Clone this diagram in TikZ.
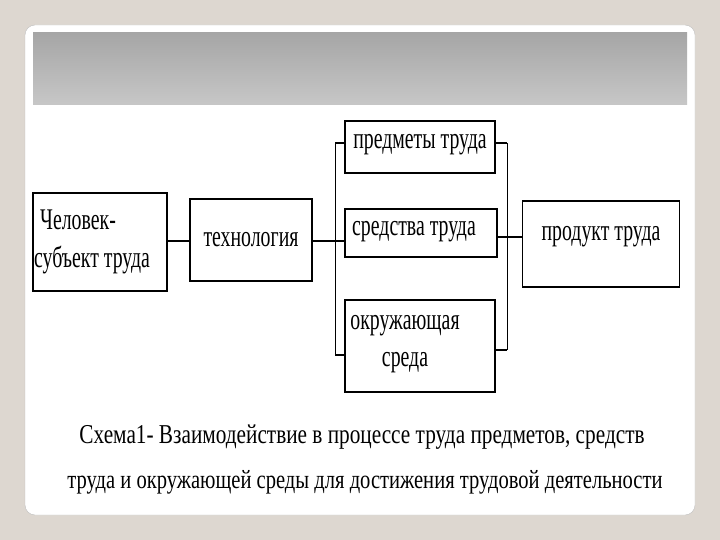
\documentclass[tikz,border=0pt]{standalone}
\usepackage{fontspec}
\setmainfont{Liberation Serif}
\newfontfamily\nar[FakeStretch=0.78]{Liberation Serif}
\newfontfamily\narr[FakeStretch=0.66]{Liberation Serif}
\newcommand\tf{\narr\fontsize{30}{34}\selectfont}
\begin{document}
\begin{tikzpicture}[x=1pt,y=-1pt,
  bx/.style={draw,line width=1.6pt,inner sep=0pt},
  tx/.style={inner sep=0pt},
  ln/.style={line width=1.3pt}]
\fill[black!12!white!90!brown] (0,0) rectangle (720,540);
\useasboundingbox (0,0) rectangle (720,540);
\fill[white,draw=black!25,rounded corners=10pt] (25,25) rectangle (695,515);
\shade[top color=black!35,bottom color=black!22] (33,33) rectangle (687,105);
\node[bx,minimum width=134,minimum height=98] (ch) at (100,242) {};
\node[tx,anchor=west] (ch1) at (40,220) {\tf Человек-};
\node[tx,anchor=west] (ch2) at (34,260) {\tf субъект труда};
\node[bx,minimum width=122,minimum height=82] (te) at (251,240) {};
\node[tx] at (251,240) {\tf технология};
\node[bx,minimum width=150,minimum height=52] (pr) at (420,147) {};
\node[tx] at (420,145) {\tf предметы труда};
\node[bx,minimum width=152,minimum height=48] (sr) at (421,233) {};
\node[tx] at (414,232) {\tf средства труда};
\node[bx,minimum width=150,minimum height=92] (ok) at (420,346) {};
\node[tx] at (405,326) {\tf окружающая};
\node[tx] at (405,363) {\tf среда};
\node[bx,line width=1.2pt,minimum width=157,minimum height=86] (pt) at (601,244) {};
\node[tx] at (601,237) {\tf продукт труда};
\coordinate (b1t) at (335,143); \coordinate (b1b) at (335,355);
\coordinate (b2t) at (507,143); \coordinate (b2b) at (507,350);
\draw[ln] (ch.east|-0,241) -- (te.west|-0,241);
\draw[ln] (te.east|-0,241) -- (335,241);
\draw[line width=0.8pt] (b1t) -- (b1b);
\draw[ln] (b1t) -- (pr.west|-b1t);
\draw[ln] (335,241) -- (sr.west|-0,241);
\draw[ln] (b1b) -- (ok.west|-b1b);
\draw[line width=0.8pt] (b2t) -- (b2b);
\draw[ln] (pr.east|-b2t) -- (b2t);
\draw[line width=2.5pt] (sr.east|-0,237) -- (pt.west|-0,237);
\draw[ln] (ok.east|-b2b) -- (b2b);
\node (c1) at (362,437) {\resizebox{565pt}{!}{\nar Схема1- Взаимодействие в процессе труда предметов, средств}};
\node (c2) at (365,482) {\resizebox{595pt}{!}{\nar труда и окружающей среды для достижения трудовой деятельности}};
\end{tikzpicture}
\end{document}
